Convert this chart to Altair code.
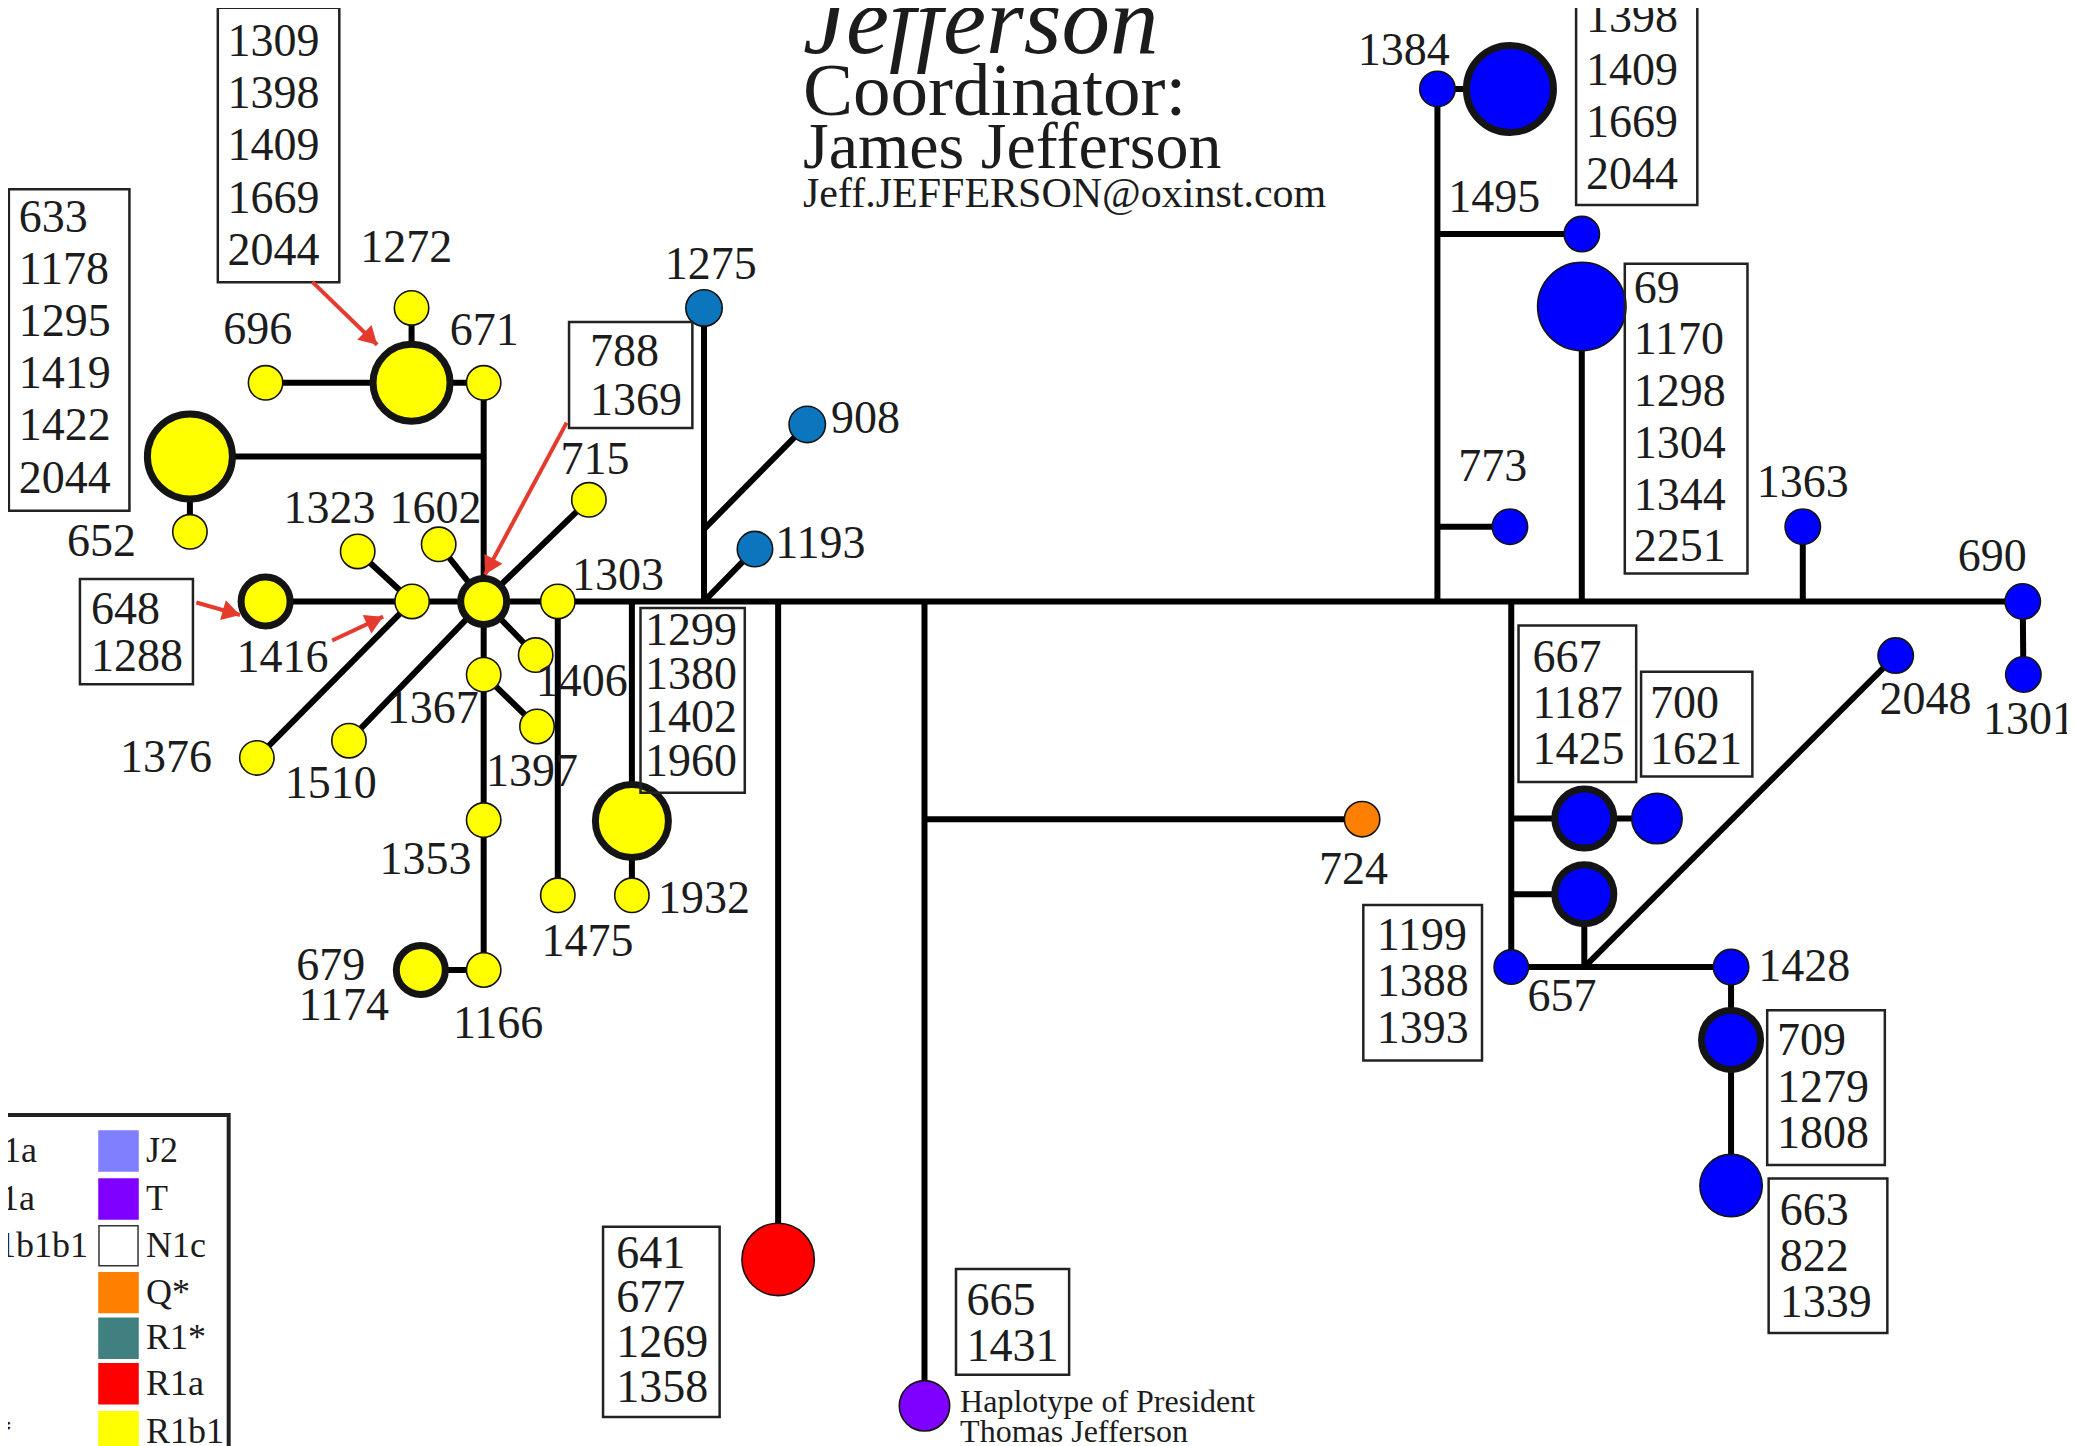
import math
import altair as alt
import pandas as pd

# ---------------- frame / coordinate system (layout units of the diagram) -------------
K = 2075 / 1568
W, H = 2059, 1438
XDOM = [8 / K, (8 + W) / K]
YDOM = [8 / K, (8 + H) / K]
FONT = "Liberation Serif"
INK = "#1c1c1c"

YEL, TEAL, BLU, RED, PUR, ORA = "#FFFF00", "#0B75BD", "#0000FF", "#FF0000", "#8000FF", "#FF8000"
ARROW = "#E53B2F"
T = 454.5  # main trunk level

# ---------------- network nodes ----------------
node_name = ["hub", "648", "1416", "1303", "1323", "1602", "715", "1406", "1367", "1397",
             "1510", "1376", "1353", "1166", "679", "1475", "1932big", "1932", "671", "1272big",
             "1272", "696", "633big", "652",
             "1275", "908", "1193", "641", "665", "724",
             "1384", "1398big", "1495", "69big", "773", "1363", "690", "1301", "2048", "667big",
             "700", "n2", "1199", "1428", "709", "663"]
node_x = [365.5, 200.7, 311.4, 421.5, 270.3, 331.5, 445.0, 404.8, 365.5, 405.8,
          263.7, 194.1, 365.5, 365.5, 318.0, 421.5, 477.5, 477.5, 365.5, 311.0,
          311.0, 200.7, 143.5, 143.5,
          532.0, 610.0, 570.5, 588.0, 698.6, 1029.3,
          1086.2, 1141.0, 1195.3, 1195.3, 1141.0, 1362.3, 1528.5, 1529.0, 1432.5, 1197.2,
          1252.1, 1197.2, 1142.0, 1308.1, 1308.1, 1308.1]
node_y = [T, T, T, T, 416.7, 411.3, 377.7, 495.0, 509.8, 549.0,
          559.7, 572.7, 619.7, 733.0, 733.0, 676.6, 620.4, 676.6, 289.3, 289.3,
          232.7, 289.3, 344.9, 401.9,
          232.7, 320.7, 414.9, 951.7, 1062.3, 619.0,
          67.2, 67.2, 176.9, 231.6, 398.0, 398.0, T, 509.7, 495.4, 618.6,
          618.6, 675.7, 730.8, 730.8, 785.8, 895.9]
node_r = [26.5, 28, 18, 18, 18, 18, 18, 18, 18, 18,
          18, 18, 18, 18, 28, 18, 40, 18, 18, 42,
          18, 18, 46, 18,
          19, 19, 18.5, 37, 26, 18.5,
          18.5, 47, 18.5, 45, 18.5, 18.5, 18.5, 18.5, 18.5, 33,
          26, 33, 18, 18.5, 33, 32]
node_color = [YEL] * 24 + [TEAL, TEAL, TEAL, RED, PUR, ORA] + [BLU] * 16
node_thick = [1, 1, 0, 0, 0, 0, 0, 0, 0, 0,
              0, 0, 0, 0, 1, 0, 1, 0, 0, 1,
              0, 0, 1, 0,
              0, 0, 0, 0, 0, 0,
              0, 1, 0, 0, 0, 0, 0, 0, 0, 1,
              0, 1, 0, 0, 1, 0]

junction_name = ["j633", "jTeal", "j908", "j1932", "jRed", "jPur", "jOra", "jBlue1", "j1495",
                 "j773", "j69", "j1363", "jB2", "jB3", "jB4", "j657"]
junction_x = [365.5, 532.0, 532.0, 477.5, 588.0, 698.6, 698.6, 1086.2, 1086.2,
              1086.2, 1195.3, 1362.3, 1142.0, 1142.0, 1142.0, 1197.2]
junction_y = [344.9, T, 399.8, T, T, T, 619.0, T, 176.9,
              398.0, T, T, T, 618.6, 675.7, 730.8]

edge_from = ["648", "hub", "j633", "633big", "696", "1272big", "1272big",
             "hub", "hub", "hub", "hub", "hub", "1416", "1416", "1367", "679", "1303", "j1932",
             "jTeal", "j908", "jTeal", "jRed", "jPur", "jOra",
             "jBlue1", "1384", "j1495", "j69", "j773", "j1363", "690",
             "jB2", "jB3", "jB4", "n2", "1199", "j657", "1428"]
edge_to = ["690", "671", "633big", "652", "1272big", "671", "1272",
           "715", "1602", "1406", "1510", "1166", "1323", "1376", "1397", "1166", "1475", "1932",
           "1275", "908", "1193", "641", "665", "724",
           "1384", "1398big", "1495", "69big", "773", "1363", "1301",
           "1199", "700", "n2", "j657", "1428", "2048", "663"]

# ---------------- single labels ----------------
label_text = ["1272", "696", "671", "652", "1323", "1602", "1416", "1303", "1406", "1367",
              "1376", "1510", "1397", "1353", "1475", "1932", "679", "1174", "1166", "715",
              "1275", "908", "1193", "724", "1384", "1495", "773", "1363", "690", "2048",
              "1301", "657", "1428"]
label_x = [307, 194.8, 366, 76.7, 249, 329, 213.4, 467, 439.6, 327,
           125.5, 250, 402, 321.5, 444, 532, 250, 259.8, 376.4, 449.7,
           537, 654, 620, 1022.7, 1060.8, 1129.2, 1128, 1362.3, 1505.4, 1455,
           1533.3, 1180.4, 1363.4]
label_y = [187.6, 249, 250, 409.7, 385, 385, 497, 435, 515, 536,
           573, 592.8, 583.5, 649.6, 711.6, 679, 730, 760, 774, 347.4,
           200, 316.8, 411, 657.5, 38.8, 149.4, 352.6, 365.1, 420.7, 528.8,
           544, 753.2, 730.8]

# ---------------- boxed member lists ----------------
box_lines = [["1309", "1398", "1409", "1669", "2044"],
             ["633", "1178", "1295", "1419", "1422", "2044"],
             ["788", "1369"],
             ["648", "1288"],
             ["1299", "1380", "1402", "1960"],
             ["641", "677", "1269", "1358"],
             ["665", "1431"],
             ["1309", "1398", "1409", "1669", "2044"],
             ["69", "1170", "1298", "1304", "1344", "2251"],
             ["667", "1187", "1425"],
             ["700", "1621"],
             ["1199", "1388", "1393"],
             ["709", "1279", "1808"],
             ["663", "822", "1339"]]
box_x1 = [164.6, 6.7, 430.0, 60.4, 484.0, 455.7, 722.4, 1191.0, 1227.8, 1147.5, 1240.1, 1030.2, 1335.4, 1336.5]
box_y1 = [5.9, 143.0, 243.3, 437.5, 459.5, 927.0, 959.0, -40.0, 199.3, 472.6, 507.7, 683.8, 763.4, 890.6]
box_x2 = [256.4, 97.8, 523.2, 145.8, 562.8, 543.8, 807.9, 1282.6, 1320.5, 1236.4, 1324.2, 1119.9, 1424.3, 1426.2]
box_y2 = [213.2, 386.0, 323.4, 517.1, 599.0, 1070.8, 1038.9, 154.9, 433.3, 590.9, 586.8, 801.3, 880.4, 1007.3]
box_tx = [172.0, 14.2, 445.9, 68.8, 487.4, 465.7, 730.3, 1198.5, 1234.6, 1158.0, 1246.9, 1040.3, 1342.9, 1344.8]
box_ty0 = [31.7, 164.6, 265.9, 461.3, 476.6, 947.5, 983.3, -25.5, 218.1, 497.5, 531.7, 707.1, 787.0, 915.0]
box_dy = [39.5, 39.4, 37.1, 35.0, 33.1, 33.7, 34.2, 39.4, 39.1, 34.7, 35.1, 35.2, 35.1, 34.7]

# ---------------- red pointer arrows ----------------
arrow_x1 = [236.0, 428.2, 148.4, 251.0]
arrow_y1 = [213.0, 319.4, 455.3, 484.0]
arrow_x2 = [285.0, 366.5, 181.4, 289.5]
arrow_y2 = [260.5, 434.2, 464.7, 466.0]

# ---------------- titles / notes ----------------
heading = "Jefferson"
title_text = ["Coordinator:", "James Jefferson", "Jeff.JEFFERSON@oxinst.com"]
title_size = [75, 66, 42]
title_y = [86.9, 127.0, 156.4]
TITLE_X = 606.8
note_lines = ["Haplotype of President", "Thomas Jefferson"]
note_y = [1067.0, 1089.5]
NOTE_X = 725.5

# ---------------- haplogroup legend (partly cut off) ----------------
legend_labels = ["J2", "T", "N1c", "Q*", "R1*", "R1a", "R1b1"]
legend_colors = ["#8080FF", "#8000FF", "#FFFFFF", "#FF8000", "#408080", "#FF0000", "#FFFF00"]
legend_top = [854.7, 891.0, 926.2, 961.7, 996.1, 1030.6, 1066.8]
legend_frag = ["1a", "1a", "1b1b1", "*"]
legend_frag_row = [0, 1, 2, 6]
legend_frag_end = [28.0, 26.4, 66.5, 9.0]

# ====================================================================
pos = {n: (x, y) for n, x, y in zip(node_name, node_x, node_y)}
pos.update({n: (x, y) for n, x, y in zip(junction_name, junction_x, junction_y)})

edges = pd.DataFrame({
    "x": [pos[a][0] for a in edge_from], "y": [pos[a][1] for a in edge_from],
    "x2": [pos[b][0] for b in edge_to], "y2": [pos[b][1] for b in edge_to]})

sw = [7.0 if t else 1.6 for t in node_thick]
nodes = pd.DataFrame({
    "x": node_x, "y": node_y, "color": node_color, "sw": sw,
    "size": [(2 * (r - s / 2)) ** 2 for r, s in zip(node_r, sw)]})

labels = pd.DataFrame({"x": label_x, "y": label_y, "t": label_text})

boxes = pd.DataFrame({"x": box_x1, "y": box_y1, "x2": box_x2, "y2": box_y2})
bt = []
for lines, tx, ty0, dy in zip(box_lines, box_tx, box_ty0, box_dy):
    for i, s in enumerate(lines):
        bt.append({"x": tx, "y": ty0 + i * dy, "t": s})
box_text = pd.DataFrame(bt)

arrows = pd.DataFrame({"x": arrow_x1, "y": arrow_y1, "x2": arrow_x2, "y2": arrow_y2})
HEAD = 420
head_h = 0.866 * math.sqrt(HEAD)
heads = []
for x1, y1, x2, y2 in zip(arrow_x1, arrow_y1, arrow_x2, arrow_y2):
    dx, dy = x2 - x1, y2 - y1
    L = math.hypot(dx, dy)
    ux, uy = dx / L, dy / L
    ang = math.degrees(math.atan2(dx, -dy)) % 360
    back = head_h / 2 / K
    heads.append({"x": x2 - ux * back, "y": y2 - uy * back, "ang": ang})
heads = pd.DataFrame(heads)

titles = pd.DataFrame({"x": [TITLE_X] * 3, "y": title_y, "t": title_text, "fs": title_size})
head_df = pd.DataFrame({"x": [TITLE_X], "y": [40.0], "t": [heading]})
notes = pd.DataFrame({"x": [NOTE_X] * 2, "y": note_y, "t": note_lines})

SW_H = 30.2
leg_sw = pd.DataFrame({
    "x": [74.8] * 7, "x2": [104.3] * 7, "y": legend_top, "y2": [t + SW_H for t in legend_top],
    "fill": legend_colors,
    "stroke": ["#333333" if c == "#FFFFFF" else c for c in legend_colors]})
leg_txt = pd.DataFrame({"x": [110.3] * 7, "y": [t + SW_H / 2 for t in legend_top], "t": legend_labels})
leg_frag = pd.DataFrame({"x": legend_frag_end,
                         "y": [legend_top[r] + SW_H / 2 for r in legend_frag_row], "t": legend_frag})
leg_frame = pd.DataFrame({"x": [-20.0], "x2": [172.8], "y": [842.6], "y2": [1120.0]})

xs = alt.Scale(domain=XDOM, nice=False, zero=False)
ys = alt.Scale(domain=YDOM, nice=False, zero=False, reverse=True)


def X(f="x"):
    return alt.X(f"{f}:Q", scale=xs, axis=None)


def Y(f="y"):
    return alt.Y(f"{f}:Q", scale=ys, axis=None)


edge_layer = alt.Chart(edges).mark_rule(color="#000000", strokeWidth=6).encode(
    x=X(), y=Y(), x2="x2:Q", y2="y2:Q")

node_layer = alt.Chart(nodes).mark_point(filled=True, shape="circle", opacity=1).encode(
    x=X(), y=Y(),
    size=alt.Size("size:Q", scale=None, legend=None),
    fill=alt.Fill("color:N", scale=None, legend=None),
    strokeWidth=alt.StrokeWidth("sw:Q", scale=None, legend=None),
    stroke=alt.value("#141414"))

box_layer = alt.Chart(boxes).mark_rect(fill="white", fillOpacity=0, stroke="#222222", strokeWidth=2.5).encode(
    x=X(), y=Y(), x2="x2:Q", y2="y2:Q")

box_text_layer = alt.Chart(box_text).mark_text(
    font=FONT, fontSize=46, align="left", baseline="middle", color=INK).encode(x=X(), y=Y(), text="t:N")

label_layer = alt.Chart(labels).mark_text(
    font=FONT, fontSize=46, align="center", baseline="middle", color=INK).encode(x=X(), y=Y(), text="t:N")

arrow_layer = alt.Chart(arrows).mark_rule(color=ARROW, strokeWidth=4).encode(
    x=X(), y=Y(), x2="x2:Q", y2="y2:Q")
head_layer = alt.Chart(heads).mark_point(shape="triangle-up", filled=True, color=ARROW, opacity=1, size=HEAD).encode(
    x=X(), y=Y(), angle=alt.Angle("ang:Q", scale=None))

heading_layer = alt.Chart(head_df).mark_text(
    font=FONT, fontSize=97, fontStyle="italic", align="left", baseline="alphabetic", color=INK).encode(
    x=X(), y=Y(), text="t:N")
title_layer = alt.Chart(titles).mark_text(
    font=FONT, align="left", baseline="alphabetic", color=INK).encode(
    x=X(), y=Y(), text="t:N", size=alt.Size("fs:Q", scale=None, legend=None))
note_layer = alt.Chart(notes).mark_text(
    font=FONT, fontSize=32, align="left", baseline="alphabetic", color=INK).encode(x=X(), y=Y(), text="t:N")

frame_layer = alt.Chart(leg_frame).mark_rect(fill="white", fillOpacity=0, stroke="#222222", strokeWidth=4).encode(
    x=X(), y=Y(), x2="x2:Q", y2="y2:Q")
sw_layer = alt.Chart(leg_sw).mark_rect(strokeWidth=1.5).encode(
    x=X(), y=Y(), x2="x2:Q", y2="y2:Q",
    fill=alt.Fill("fill:N", scale=None, legend=None),
    stroke=alt.Stroke("stroke:N", scale=None, legend=None))
leg_txt_layer = alt.Chart(leg_txt).mark_text(
    font=FONT, fontSize=36, align="left", baseline="middle", color=INK).encode(x=X(), y=Y(), text="t:N")
leg_frag_layer = alt.Chart(leg_frag).mark_text(
    font=FONT, fontSize=36, align="right", baseline="middle", color=INK).encode(x=X(), y=Y(), text="t:N")

chart = alt.layer(
    edge_layer, node_layer, box_layer, box_text_layer, label_layer,
    arrow_layer, head_layer, heading_layer, title_layer, note_layer,
    frame_layer, sw_layer, leg_txt_layer, leg_frag_layer,
).properties(
    width=W, height=H, padding=0,
    autosize=alt.AutoSizeParams(type="none"),
).configure_view(strokeWidth=0)

chart.save("out.html", embed_options={"renderer": "svg", "actions": False})
